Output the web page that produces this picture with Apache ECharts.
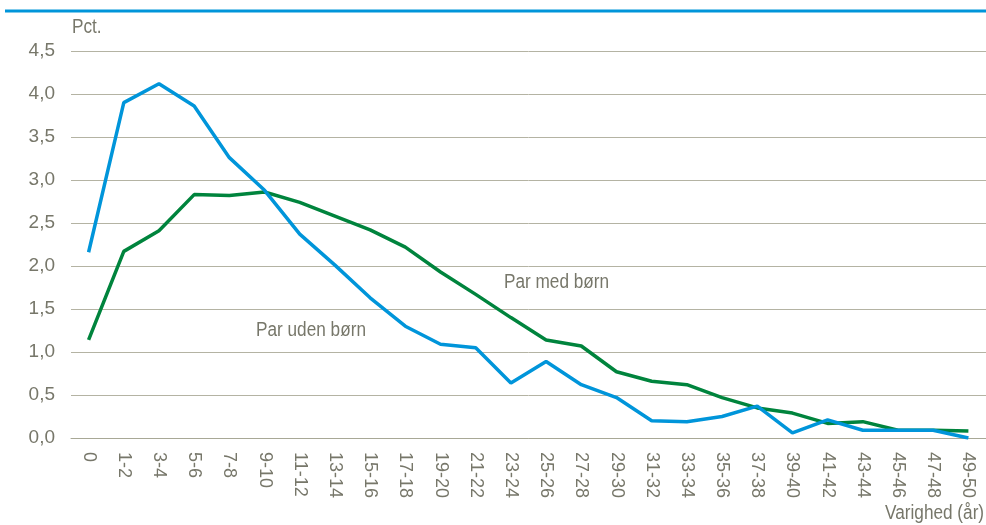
<!DOCTYPE html>
<html>
<head>
<meta charset="utf-8">
<script src="https://cdn.jsdelivr.net/npm/echarts@6/dist/echarts.min.js"></script>
<style>
  html, body { margin: 0; padding: 0; background: #fff; }
  #chart { width: 986px; height: 525px; }
</style>
</head>
<body>
<div id="chart"></div>
<script>
// varighed i år
const categories = ['0', '1-2', '3-4', '5-6', '7-8', '9-10', '11-12', '13-14', '15-16', '17-18',
  '19-20', '21-22', '23-24', '25-26', '27-28', '29-30', '31-32', '33-34', '35-36', '37-38',
  '39-40', '41-42', '43-44', '45-46', '47-48', '49-50'];

const parUdenBorn = [2.16, 3.90, 4.12, 3.86, 3.26, 2.88, 2.37, 2.01, 1.63, 1.30,
  1.09, 1.05, 0.64, 0.89, 0.62, 0.47, 0.20, 0.19, 0.25, 0.37,
  0.06, 0.21, 0.09, 0.09, 0.09, 0.00];

const parMedBorn = [1.14, 2.17, 2.41, 2.83, 2.82, 2.86, 2.74, 2.58, 2.42, 2.22,
  1.93, 1.67, 1.40, 1.14, 1.07, 0.77, 0.66, 0.62, 0.47, 0.35,
  0.29, 0.17, 0.19, 0.09, 0.09, 0.08];

const yTicks = [0, 0.5, 1, 1.5, 2, 2.5, 3, 3.5, 4, 4.5];

const textColor = '#77776a';
const font = '"Liberation Sans", Arial, sans-serif';

// smal tekst (narrow-look) via vandret skalering
function label(text, x, y) {
  return {
    type: 'text', x: x, y: y, scaleX: 0.86,
    style: { text: text, fill: textColor, font: '20px ' + font, textVerticalAlign: 'top' }
  };
}

const chart = echarts.init(document.getElementById('chart'));
chart.setOption({
  animation: false,
  textStyle: { fontFamily: font },
  grid: { left: 71, right: 0, top: 51, bottom: 87 },
  graphic: [
    { type: 'line', shape: { x1: 5, y1: 11, x2: 986, y2: 11 }, style: { stroke: '#0095da', lineWidth: 3 } },
    label('Pct.', 72, 17),
    label('Varighed (år)', 885, 503),
    label('Par med børn', 504, 272),
    label('Par uden børn', 256, 320)
  ],
  xAxis: {
    type: 'category',
    data: categories,
    boundaryGap: true,
    axisLine: { lineStyle: { color: '#a8a896', width: 1 } },
    axisTick: { show: false },
    axisLabel: { rotate: -90, interval: 0, color: textColor, fontSize: 18, margin: 14 }
  },
  yAxis: {
    type: 'value',
    min: yTicks[0],
    max: yTicks[yTicks.length - 1],
    interval: 0.5,
    axisLine: { show: false },
    axisTick: { show: false },
    axisLabel: {
      color: textColor, fontSize: 19, margin: 16,
      formatter: v => v.toFixed(1).replace('.', ',')
    },
    splitLine: { lineStyle: { color: '#b4b3a3', width: 1 } }
  },
  series: [
    {
      name: 'Par uden børn',
      type: 'line',
      data: parUdenBorn,
      symbol: 'none',
      lineStyle: { color: '#0095da', width: 3.5 },
      z: 3
    },
    {
      name: 'Par med børn',
      type: 'line',
      data: parMedBorn,
      symbol: 'none',
      lineStyle: { color: '#00843d', width: 3.5 },
      z: 2
    }
  ]
});
</script>
</body>
</html>
